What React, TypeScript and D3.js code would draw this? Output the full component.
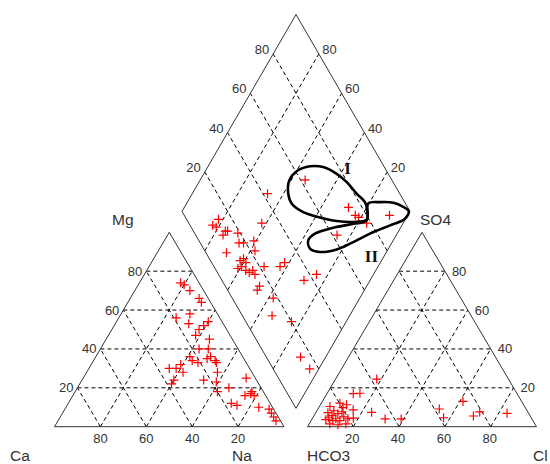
import React from 'react'
import * as d3 from 'd3'

// cation triangle: [Na+K %, Mg %]
const cations: [number, number][] = [
  [18, 74], [20, 73], [24, 70], [30, 66], [32, 64], [30, 58], [25, 56], [32, 53], [40, 54],
  [39, 52], [38, 50], [38, 47], [45, 45], [43, 40], [47, 40], [41, 36], [43, 34], [46, 33],
  [49, 35], [50, 36], [53, 34], [54, 33], [39, 32], [38, 30], [35, 30], [42, 28], [40, 24],
  [40, 22], [57, 28], [53, 24], [59, 23], [62, 18], [66, 20], [71, 25], [75, 16], [77, 18],
  [79, 16], [77, 17], [71, 12], [74, 11], [84, 10], [89, 9], [91, 7], [93, 5], [95, 3],
]

// anion triangle: [Cl %, SO4 %]
const anions: [number, number][] = [
  [18, 24.5], [11.5, 17], [14.3, 17.2], [61.4, 13], [53, 9.1], [57.1, 4.6], [69.7, 5.5],
  [71.4, 7.6], [83.7, 6.9], [24.3, 7.4], [31.9, 4], [38.9, 4], [15.6, 8.7], [17.8, 4.4],
  [8.1, 12.1], [11.4, 11.3], [4.6, 10.4], [5.3, 7.2], [7.8, 5.7], [10.3, 4.1], [12.6, 3.1],
  [6.2, 3.6], [9, 1.5], [7.4, 8.2], [9.9, 6.7], [11.2, 7.7], [13.3, 5.1], [16, 1.5],
  [12.8, 1], [9.5, 3.1], [7, 4.6], [15.6, 4.1], [10.6, 9.8],
]

// diamond: [SO4+Cl %, Ca+Mg %]
const diamond: [number, number][] = [
  [62, 54], [42, 67], [74, 28], [75, 23], [76, 21], [78, 16], [90, 8], [62, 26], [32, 62],
  [14, 82], [11, 81], [10, 83], [14, 76], [15, 75], [12, 76], [19, 70], [17, 67], [19, 65],
  [24, 61], [9, 70], [22, 58], [13, 62], [15, 61], [15, 59], [12, 60], [10, 61], [13, 57],
  [14, 55], [16, 52], [16, 54], [22, 50], [29, 43], [32, 42], [43, 25], [36, 29], [15, 47],
  [13, 47], [18, 38], [13, 34], [20, 24], [15, 11], [16, 4],
]

// hand drawn envelopes in diamond units
const envelopeI: [number, number][] = [
  [60.5, 59.9], [67.6, 55.3], [73.2, 49.3], [77.4, 41.7], [79.7, 35.2], [81.1, 27.9],
  [82.6, 22.1], [81.5, 19], [78.9, 16.9], [72.4, 22.2], [65.4, 29.7], [59, 37.9],
  [53, 46.6], [50.1, 53.9], [51.1, 57.9], [54.9, 60.8],
]
const envelopeII: [number, number][] = [
  [83.7, 20.3], [89.2, 15.5], [94.9, 9.5], [98.2, 4.1], [99.5, 0.6], [95.5, 0.5],
  [87.7, 5.2], [76.8, 11.9], [65.5, 18.1], [58.2, 22.5], [50.2, 29.2], [46.7, 34.4],
  [48.1, 37.3], [52.7, 36], [62.2, 29.5], [72, 21.7], [78.7, 16.7],
]
const groupLabels: { text: string; at: [number, number] }[] = [
  { text: 'I', at: [83.6, 38.4] },
  { text: 'II', at: [71.7, 5.5] },
]

const ticks = [20, 40, 60, 80]

const W = 550
const H = 464
const dash = '4,3'
const ink = '#333'
const tickFont = { fontFamily: 'Liberation Sans, Arial, sans-serif', fontSize: 13, fill: ink }
const axisFont = { fontFamily: 'Liberation Sans, Arial, sans-serif', fontSize: 15.5, fill: ink }

function triangle(x0: number, w: number, base: number, h: number) {
  const sx = d3.scaleLinear().domain([0, 100]).range([x0, x0 + w])
  const sy = d3.scaleLinear().domain([0, 100]).range([base, base - h])
  // a = right vertex share, b = apex share
  return (a: number, b: number): [number, number] => [sx(a + b / 2), sy(b)]
}

const cat = triangle(54.5, 229.5, 426.7, 194.4)
const an = triangle(307.5, 229, 426.7, 194.4)

const dX = d3.scaleLinear().domain([-100, 100]).range([182, 410])
const dY = d3.scaleLinear().domain([0, 200]).range([408.3, 14.5])
const dia = (u: number, v: number): [number, number] => [dX(u - v), dY(u + v)]

const seg = (p: [number, number], q: [number, number]) => `M${p[0]},${p[1]}L${q[0]},${q[1]}`

function triGrid(f: (a: number, b: number) => [number, number]) {
  return ticks.map(t =>
    seg(f(0, t), f(100 - t, t)) + seg(f(t, 0), f(t, 100 - t)) + seg(f(100 - t, 0), f(0, 100 - t))
  ).join('')
}

const Cross = ({ p }: { p: [number, number] }) => (
  <path d={`M${p[0] - 4.5},${p[1]}H${p[0] + 4.5}M${p[0]},${p[1] - 4.5}V${p[1] + 4.5}`}
    stroke="#ff0000" strokeWidth={1.2} fill="none" />
)

const loop = d3.line<[number, number]>()
  .x(d => dia(d[0], d[1])[0])
  .y(d => dia(d[0], d[1])[1])
  .curve(d3.curveCatmullRomClosed.alpha(0.5))

export default function App() {
  const diaGrid = ticks.map(t => seg(dia(t, 0), dia(t, 100)) + seg(dia(0, t), dia(100, t))).join('')
  const outline = (pts: [number, number][]) => 'M' + pts.map(p => p.join(',')).join('L') + 'Z'

  return (
    <svg width={W} height={H} style={{ position: 'absolute', left: 0, top: 0, background: '#fff' }}>
      {/* grids */}
      <path d={triGrid(cat)} stroke="#000" strokeDasharray={dash} fill="none" />
      <path d={triGrid(an)} stroke="#000" strokeDasharray={dash} fill="none" />
      <path d={diaGrid} stroke="#000" strokeDasharray={dash} fill="none" />

      {/* outlines */}
      <path d={outline([cat(0, 0), cat(100, 0), cat(0, 100)])} stroke={ink} fill="none" />
      <path d={outline([an(0, 0), an(100, 0), an(0, 100)])} stroke={ink} fill="none" />
      <path d={outline([dia(0, 0), dia(100, 0), dia(100, 100), dia(0, 100)])} stroke={ink} fill="none" />

      {/* tick labels */}
      {ticks.map(t => {
        const l = cat(0, t)
        const b = cat(t, 0)
        const r = an(100 - t, t)
        const c = an(t, 0)
        const du = dia(t, 100)
        const dv = dia(100, t)
        return (
          <g key={t}>
            <text x={l[0] - 4} y={l[1]} textAnchor="end" dominantBaseline="central" {...tickFont}>{t}</text>
            <text x={b[0]} y={438.5} textAnchor="middle" dominantBaseline="central" {...tickFont}>{100 - t}</text>
            <text x={r[0] + 7} y={r[1]} textAnchor="start" dominantBaseline="central" {...tickFont}>{t}</text>
            <text x={c[0] - 1} y={438.5} textAnchor="middle" dominantBaseline="central" {...tickFont}>{t}</text>
            <text x={du[0] - 4} y={du[1] - 4.5} textAnchor="end" dominantBaseline="central" {...tickFont}>{t}</text>
            <text x={dv[0] + 3.5} y={dv[1] - 4.5} textAnchor="start" dominantBaseline="central" {...tickFont}>{t}</text>
          </g>
        )
      })}

      {/* axis names */}
      <text x={10} y={455} dominantBaseline="central" {...axisFont}>Ca</text>
      <text x={232} y={455} dominantBaseline="central" {...axisFont}>Na</text>
      <text x={307} y={455} dominantBaseline="central" {...axisFont}>HCO3</text>
      <text x={533} y={455} dominantBaseline="central" {...axisFont}>Cl</text>
      <text x={112} y={219} dominantBaseline="central" {...axisFont}>Mg</text>
      <text x={420} y={219} dominantBaseline="central" {...axisFont}>SO4</text>

      {/* samples */}
      {cations.map((d, i) => <Cross key={'c' + i} p={cat(d[0], d[1])} />)}
      {anions.map((d, i) => <Cross key={'a' + i} p={an(d[0], d[1])} />)}
      {diamond.map((d, i) => <Cross key={'d' + i} p={dia(d[0], d[1])} />)}

      {/* envelopes */}
      <path d={loop(envelopeI) || ''} stroke="#000" strokeWidth={2.6} fill="none" />
      <path d={loop(envelopeII) || ''} stroke="#000" strokeWidth={2.6} fill="none" />
      {groupLabels.map(g => {
        const p = dia(g.at[0], g.at[1])
        return (
          <text key={g.text} x={p[0]} y={p[1]} textAnchor="middle" dominantBaseline="central"
            fontFamily="Liberation Serif, Times New Roman, serif" fontWeight="bold" fontSize={17} fill="#111">
            {g.text}
          </text>
        )
      })}
    </svg>
  )
}
